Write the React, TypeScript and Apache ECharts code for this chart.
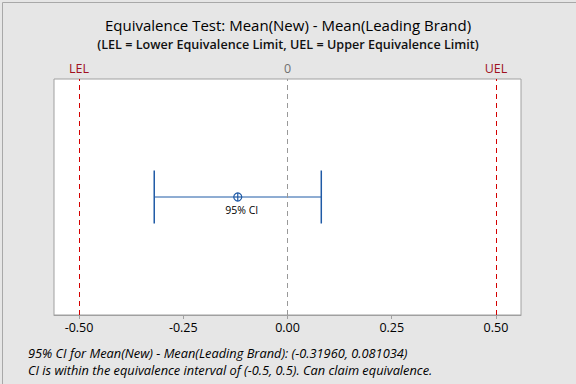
import React, { useEffect, useRef } from "react";
import * as echarts from "echarts";

const ciLabel = "95% CI";
const ciLower = -0.3196;
const ciUpper = 0.081034;
const ciMean = -0.119283;
const tickValues = [-0.5, -0.25, 0, 0.25, 0.5];
const refLines = [
  { name: "LEL", value: -0.5 },
  { name: "0", value: 0 },
  { name: "UEL", value: 0.5 },
];
const titleText = "Equivalence Test: Mean(New) - Mean(Leading Brand)";
const subtitleText = "(LEL = Lower Equivalence Limit, UEL = Upper Equivalence Limit)";
const footLines = [
  "95% CI for Mean(New) - Mean(Leading Brand): (-0.31960, 0.081034)",
  "CI is within the equivalence interval of (-0.5, 0.5). Can claim equivalence.",
];

const FONT = "'Open Sans', 'Noto Sans', sans-serif";
const BLUE = "#1f5aa6";

export default function App() {
  const ref = useRef<HTMLDivElement>(null);
  useEffect(() => {
    if (!ref.current) return;
    const chart = echarts.init(ref.current, null, { renderer: "svg" });
    const option: any = {
      animation: false,
      backgroundColor: "#e6e6e6",
      textStyle: { fontFamily: FONT },
      grid: {
        left: 54,
        right: 55,
        top: 79,
        bottom: 69,
        show: true,
        backgroundColor: "#ffffff",
        borderColor: "#a0a0a0",
        borderWidth: 1,
      },
      xAxis: {
        type: "value",
        min: -0.56,
        max: 0.56,
        splitLine: { show: false },
        axisLine: { show: true, onZero: false, lineStyle: { color: "#a0a0a0" } },
        axisTick: {
          show: true,
          length: 4,
          lineStyle: { color: "#a0a0a0" },
          customValues: tickValues,
        },
        axisLabel: {
          customValues: tickValues,
          formatter: (v: number) => v.toFixed(2),
          color: "#000",
          fontSize: 12.5,
          fontFamily: FONT,
          margin: 6,
        },
      },
      yAxis: {
        type: "value",
        min: 0,
        max: 1,
        show: false,
      },
      graphic: [
        {
          type: "text",
          left: "center",
          top: 17,
          style: { text: titleText, fontSize: 15, fontFamily: FONT, fill: "#000" },
        },
        {
          type: "text",
          left: "center",
          top: 38,
          style: { text: subtitleText, fontSize: 12.6, fontWeight: 600, fontFamily: FONT, fill: "#111" },
        },
        {
          type: "text",
          left: 28,
          top: 344,
          style: {
            text: footLines.join("\n"),
            fontSize: 12.8,
            fontStyle: "italic",
            fontFamily: FONT,
            fill: "#000",
            lineHeight: 17,
          },
        },
        {
          type: "rect",
          left: 0,
          top: 0,
          shape: { width: 575, height: 383 },
          style: { fill: "none", stroke: "#a8a8a8", lineWidth: 1 },
          silent: true,
        },
      ],
      series: [
        {
          type: "custom",
          name: "ci",
          data: [[ciLower, ciUpper, 0.5]],
          renderItem: (params: any, api: any) => {
            const lo = api.coord([api.value(0), api.value(2)]);
            const hi = api.coord([api.value(1), api.value(2)]);
            const h = 26.5;
            const st = { stroke: BLUE, lineWidth: 1.5 };
            return {
              type: "group",
              children: [
                { type: "line", shape: { x1: lo[0], y1: lo[1], x2: hi[0], y2: hi[1] }, style: { stroke: BLUE, lineWidth: 1 } },
                { type: "line", shape: { x1: lo[0], y1: lo[1] - h, x2: lo[0], y2: lo[1] + h }, style: st },
                { type: "line", shape: { x1: hi[0], y1: hi[1] - h, x2: hi[0], y2: hi[1] + h }, style: st },
              ],
            };
          },
          markLine: {
            silent: true,
            symbol: ["none", "none"],
            data: refLines.map((r) => ({
              xAxis: r.value,
              name: r.name,
              lineStyle: {
                color: r.value === 0 ? "#999999" : "#d40000",
                type: [5, 4],
                width: 1,
              },
              label: {
                show: true,
                position: "end",
                formatter: r.name,
                color: r.value === 0 ? "#707070" : "#a01020",
                fontSize: 12.5,
                fontFamily: FONT,
                distance: 4,
              },
            })),
          },
          z: 3,
        },
        {
          type: "custom",
          name: "mean",
          data: [[ciMean, 0.5]],
          renderItem: (params: any, api: any) => {
            const p = api.coord([api.value(0), api.value(1)]);
            const r = 4;
            const st = { stroke: BLUE, lineWidth: 1.2 };
            return {
              type: "group",
              children: [
                { type: "circle", shape: { cx: p[0], cy: p[1], r }, style: { fill: "#ffffff", stroke: BLUE, lineWidth: 1.2 } },
                { type: "line", shape: { x1: p[0] - r, y1: p[1], x2: p[0] + r, y2: p[1] }, style: st },
                { type: "line", shape: { x1: p[0], y1: p[1] - r, x2: p[0], y2: p[1] + r }, style: st },
                {
                  type: "text",
                  x: p[0] + 4,
                  y: p[1] + 7,
                  style: {
                    text: ciLabel,
                    fontSize: 10.5,
                    fontFamily: FONT,
                    fill: "#000",
                    align: "center",
                    verticalAlign: "top",
                  },
                },
              ],
            };
          },
          z: 4,
        },
      ],
    };
    chart.setOption(option);
    return () => chart.dispose();
  }, []);
  return (
    <div
      ref={ref}
      style={{ position: "fixed", left: 0, top: 0, width: 576, height: 384 }}
    />
  );
}
